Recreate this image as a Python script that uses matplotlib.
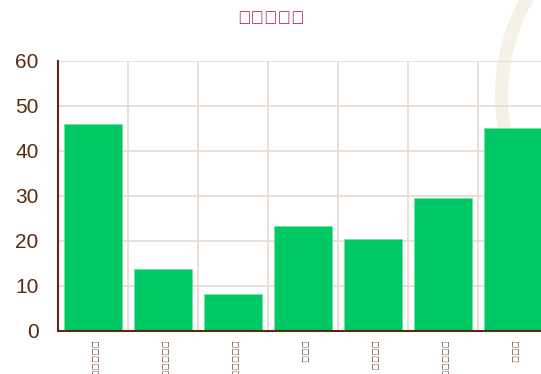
import matplotlib
matplotlib.use("Agg")
from matplotlib import pyplot as plt
from matplotlib.patches import Wedge
import numpy as np

# ଦିଗବଳ values per graha
grahas = ['ସୂର୍ଯ୍ୟ', 'ଚନ୍ଦ୍ର', 'ମଙ୍ଗଳ', 'ବୁଧ', 'ଗୁରୁ', 'ଶୁକ୍ର', 'ଶନି']
digbala = [46.0, 13.8, 8.1, 23.2, 20.3, 29.5, 45.1]
yticks = [0, 10, 20, 30, 40, 50, 60]

brown = '#5b2a0e'
green = '#00c865'
gridc = '#e9ddd3'

plt.rcParams['font.family'] = ['Liberation Sans', 'DejaVu Sans']

fig = plt.figure(figsize=(5.41, 3.74), dpi=100)

# faint logo ring in the top right corner, behind everything
ring = Wedge((6.95, 2.79), 2.0, 0, 360, width=0.13, transform=fig.dpi_scale_trans,
             facecolor='#f5f1e7', edgecolor='none', zorder=-5)
fig.patches.append(ring)

ax = fig.add_axes([58 / 541, 43 / 374, 490 / 541, 270.5 / 374])
ax.patch.set_alpha(0)
ax.set_zorder(1)

x = np.arange(len(grahas))
ax.bar(x, digbala, width=0.82, color=green, edgecolor='#6fe2a3', linewidth=0.6, zorder=3)

ax.set_xlim(-0.5, len(grahas) - 0.5)
ax.set_ylim(0, 60)
ax.set_yticks(yticks)
ax.set_yticklabels([str(v) for v in yticks])
ax.set_xticks(x)
ax.set_xticklabels(grahas, rotation=-90, va='top', ha='center')
ax.set_xticks(np.arange(len(grahas) + 1) - 0.5, minor=True)

ax.grid(axis='y', color=gridc, linewidth=1.3, zorder=1)
ax.grid(axis='x', which='minor', color=gridc, linewidth=1.3, zorder=1)
ax.tick_params(axis='y', length=0, pad=14, labelsize=15, labelcolor=brown)
ax.tick_params(axis='x', which='both', length=0, pad=7, labelsize=7, labelcolor=brown)

for s in ['top', 'right']:
    ax.spines[s].set_visible(False)
for s in ['left', 'bottom']:
    ax.spines[s].set_color(brown)
    ax.spines[s].set_linewidth(1.5)
    ax.spines[s].set_zorder(4)

fig.text(0.5, 1 - 20 / 374, 'ଦିଗବଳ', color='#9e1446', fontsize=13, ha='center', va='center')

fig.savefig('out.png', dpi=100)
